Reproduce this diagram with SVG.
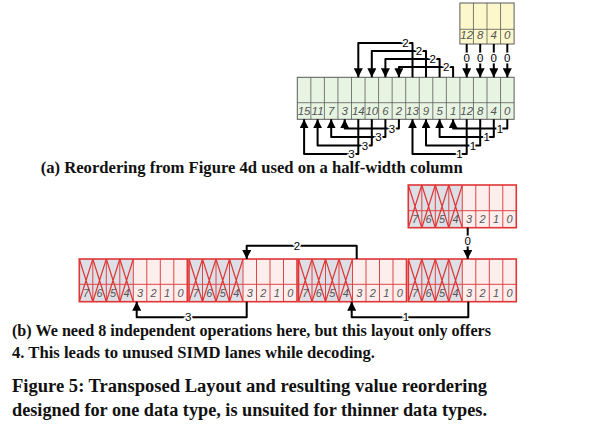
<svg xmlns="http://www.w3.org/2000/svg" width="614" height="445" viewBox="0 0 614 445">
<style>
.cellg{fill:#e7f4e2;stroke:#5a5a5a;stroke-width:1}
.celly{fill:#fcf8cc;stroke:#5a5a5a;stroke-width:1}
.grid{stroke:#5a5a5a;stroke-width:0.8;fill:none}
.num{font-family:"Liberation Sans",Arial,sans-serif;font-style:italic;font-size:11.5px;fill:#555;text-anchor:middle}
.rnum{font-family:"Liberation Sans",Arial,sans-serif;font-style:italic;font-size:11px;fill:#555;text-anchor:middle}
.conn{fill:none;stroke:#000;stroke-width:2;stroke-linejoin:round}
.lbl{font-family:"Liberation Sans",Arial,sans-serif;font-size:11.5px;fill:#000;text-anchor:middle;paint-order:stroke;stroke:#fff;stroke-width:3px}
.gray{fill:#dcdfe5}
.pink{fill:#fdeeee}
.rline{stroke:#e04545;stroke-width:1;fill:none}
.rx{stroke:#e03535;stroke-width:1.2;fill:none}
.rborder{stroke:#e03535;stroke-width:1.6;fill:none}
.cap{font-family:"Liberation Serif","Times New Roman",serif;font-weight:bold;fill:#111}
</style>
<defs>
<marker id="ah" markerUnits="userSpaceOnUse" markerWidth="9" markerHeight="9" viewBox="0 0 10 10" refX="10" refY="5" orient="auto">
<path d="M0,0 L10,5 L0,10 z" fill="#000"/>
</marker>
</defs>

<!-- (a) yellow source column -->
<g id="yellow">
<rect class="celly" x="459.9" y="3" width="54.2" height="41"/>
<path class="grid" d="M473.45,3V44M487,3V44M500.55,3V44M459.9,29.3H514.1"/>
<text class="num" x="466.7" y="39">12</text>
<text class="num" x="480.2" y="39">8</text>
<text class="num" x="493.8" y="39">4</text>
<text class="num" x="507.3" y="39">0</text>
</g>

<!-- (a) green target column -->
<g id="green">
<rect class="cellg" x="297.3" y="77.3" width="216.8" height="42"/>
<path class="grid" d="M310.85,77.3V119.3M324.4,77.3V119.3M337.95,77.3V119.3M351.5,77.3V119.3M365.05,77.3V119.3M378.6,77.3V119.3M392.15,77.3V119.3M405.7,77.3V119.3M419.25,77.3V119.3M432.8,77.3V119.3M446.35,77.3V119.3M459.9,77.3V119.3M473.45,77.3V119.3M487,77.3V119.3M500.55,77.3V119.3M297.3,102.7H514.1"/>
<text class="num" x="304.1" y="114.5">15</text>
<text class="num" x="317.6" y="114.5">11</text>
<text class="num" x="331.2" y="114.5">7</text>
<text class="num" x="344.7" y="114.5">3</text>
<text class="num" x="358.3" y="114.5">14</text>
<text class="num" x="371.8" y="114.5">10</text>
<text class="num" x="385.4" y="114.5">6</text>
<text class="num" x="398.9" y="114.5">2</text>
<text class="num" x="412.5" y="114.5">13</text>
<text class="num" x="426" y="114.5">9</text>
<text class="num" x="439.6" y="114.5">5</text>
<text class="num" x="453.1" y="114.5">1</text>
<text class="num" x="466.7" y="114.5">12</text>
<text class="num" x="480.2" y="114.5">8</text>
<text class="num" x="493.8" y="114.5">4</text>
<text class="num" x="507.3" y="114.5">0</text>
</g>

<!-- (b) top red box -->
<g id="src8" transform="translate(408.3,185)">
<rect class="gray" x="0" y="0" width="54" height="42.7"/>
<rect class="pink" x="54" y="0" width="54" height="42.7"/>
<path class="rline" d="M13.5,0V42.7M27,0V42.7M40.5,0V42.7M54,0V42.7M67.5,0V42.7M81,0V42.7M94.5,0V42.7M0,25.7H108"/>
<path class="rx" d="M0,0L13.5,42.7M13.5,0L0,42.7M13.5,0L27,42.7M27,0L13.5,42.7M27,0L40.5,42.7M40.5,0L27,42.7M40.5,0L54,42.7M54,0L40.5,42.7"/>
<rect class="rborder" x="0" y="0" width="108" height="42.7"/>
<text class="rnum" x="6.75" y="38">7</text><text class="rnum" x="20.25" y="38">6</text><text class="rnum" x="33.75" y="38">5</text><text class="rnum" x="47.25" y="38">4</text>
<text class="rnum" x="60.75" y="38">3</text><text class="rnum" x="74.25" y="38">2</text><text class="rnum" x="87.75" y="38">1</text><text class="rnum" x="101.25" y="38">0</text>
</g>

<!-- (b) lower boxes -->
<g id="box1" transform="translate(79.3,259)">
<rect class="gray" x="0" y="0" width="54" height="42.7"/>
<rect class="pink" x="54" y="0" width="54" height="42.7"/>
<path class="rline" d="M13.5,0V42.7M27,0V42.7M40.5,0V42.7M54,0V42.7M67.5,0V42.7M81,0V42.7M94.5,0V42.7M0,25.3H108"/>
<path class="rx" d="M0,0L13.5,42.7M13.5,0L0,42.7M13.5,0L27,42.7M27,0L13.5,42.7M27,0L40.5,42.7M40.5,0L27,42.7M40.5,0L54,42.7M54,0L40.5,42.7"/>
<rect class="rborder" x="0" y="0" width="108" height="42.7"/>
<text class="rnum" x="6.75" y="38">7</text><text class="rnum" x="20.25" y="38">6</text><text class="rnum" x="33.75" y="38">5</text><text class="rnum" x="47.25" y="38">4</text>
<text class="rnum" x="60.75" y="38">3</text><text class="rnum" x="74.25" y="38">2</text><text class="rnum" x="87.75" y="38">1</text><text class="rnum" x="101.25" y="38">0</text>
</g>
<g id="box2" transform="translate(189,259)">
<rect class="gray" x="0" y="0" width="54" height="42.7"/>
<rect class="pink" x="54" y="0" width="54" height="42.7"/>
<path class="rline" d="M13.5,0V42.7M27,0V42.7M40.5,0V42.7M54,0V42.7M67.5,0V42.7M81,0V42.7M94.5,0V42.7M0,25.3H108"/>
<path class="rx" d="M0,0L13.5,42.7M13.5,0L0,42.7M13.5,0L27,42.7M27,0L13.5,42.7M27,0L40.5,42.7M40.5,0L27,42.7M40.5,0L54,42.7M54,0L40.5,42.7"/>
<rect class="rborder" x="0" y="0" width="108" height="42.7"/>
<text class="rnum" x="6.75" y="38">7</text><text class="rnum" x="20.25" y="38">6</text><text class="rnum" x="33.75" y="38">5</text><text class="rnum" x="47.25" y="38">4</text>
<text class="rnum" x="60.75" y="38">3</text><text class="rnum" x="74.25" y="38">2</text><text class="rnum" x="87.75" y="38">1</text><text class="rnum" x="101.25" y="38">0</text>
</g>
<g id="box3" transform="translate(298.5,259)">
<rect class="gray" x="0" y="0" width="54" height="42.7"/>
<rect class="pink" x="54" y="0" width="54" height="42.7"/>
<path class="rline" d="M13.5,0V42.7M27,0V42.7M40.5,0V42.7M54,0V42.7M67.5,0V42.7M81,0V42.7M94.5,0V42.7M0,25.3H108"/>
<path class="rx" d="M0,0L13.5,42.7M13.5,0L0,42.7M13.5,0L27,42.7M27,0L13.5,42.7M27,0L40.5,42.7M40.5,0L27,42.7M40.5,0L54,42.7M54,0L40.5,42.7"/>
<rect class="rborder" x="0" y="0" width="108" height="42.7"/>
<text class="rnum" x="6.75" y="38">7</text><text class="rnum" x="20.25" y="38">6</text><text class="rnum" x="33.75" y="38">5</text><text class="rnum" x="47.25" y="38">4</text>
<text class="rnum" x="60.75" y="38">3</text><text class="rnum" x="74.25" y="38">2</text><text class="rnum" x="87.75" y="38">1</text><text class="rnum" x="101.25" y="38">0</text>
</g>
<g id="box4" transform="translate(408.3,259)">
<rect class="gray" x="0" y="0" width="54" height="42.7"/>
<rect class="pink" x="54" y="0" width="54" height="42.7"/>
<path class="rline" d="M13.5,0V42.7M27,0V42.7M40.5,0V42.7M54,0V42.7M67.5,0V42.7M81,0V42.7M94.5,0V42.7M0,25.3H108"/>
<path class="rx" d="M0,0L13.5,42.7M13.5,0L0,42.7M13.5,0L27,42.7M27,0L13.5,42.7M27,0L40.5,42.7M40.5,0L27,42.7M40.5,0L54,42.7M54,0L40.5,42.7"/>
<rect class="rborder" x="0" y="0" width="108" height="42.7"/>
<text class="rnum" x="6.75" y="38">7</text><text class="rnum" x="20.25" y="38">6</text><text class="rnum" x="33.75" y="38">5</text><text class="rnum" x="47.25" y="38">4</text>
<text class="rnum" x="60.75" y="38">3</text><text class="rnum" x="74.25" y="38">2</text><text class="rnum" x="87.75" y="38">1</text><text class="rnum" x="101.25" y="38">0</text>
</g>

<!-- connectors -->
<g id="connectors">
<!-- (a) step 0 -->
<path class="conn" marker-end="url(#ah)" d="M466.7,44V77.3"/>
<path class="conn" marker-end="url(#ah)" d="M480.2,44V77.3"/>
<path class="conn" marker-end="url(#ah)" d="M493.8,44V77.3"/>
<path class="conn" marker-end="url(#ah)" d="M507.3,44V77.3"/>
<text class="lbl" x="466.7" y="62">0</text>
<text class="lbl" x="480.2" y="62">0</text>
<text class="lbl" x="493.8" y="62">0</text>
<text class="lbl" x="507.3" y="62">0</text>
<!-- (a) step 2 -->
<path class="conn" marker-end="url(#ah)" d="M412.5,77.3V43H358.3V77.3"/>
<path class="conn" marker-end="url(#ah)" d="M426,77.3V51H371.8V77.3"/>
<path class="conn" marker-end="url(#ah)" d="M439.6,77.3V59H385.4V77.3"/>
<path class="conn" marker-end="url(#ah)" d="M453.1,77.3V67H398.9V77.3"/>
<text class="lbl" x="405.5" y="47">2</text>
<text class="lbl" x="419" y="55">2</text>
<text class="lbl" x="432.6" y="63">2</text>
<text class="lbl" x="446.1" y="71">2</text>
<!-- (a) step 3 -->
<path class="conn" marker-end="url(#ah)" d="M358.3,119.3V154H304.1V119.3"/>
<path class="conn" marker-end="url(#ah)" d="M371.8,119.3V145.5H317.6V119.3"/>
<path class="conn" marker-end="url(#ah)" d="M385.4,119.3V137H331.2V119.3"/>
<path class="conn" marker-end="url(#ah)" d="M398.9,119.3V128.5H344.7V119.3"/>
<text class="lbl" x="351.5" y="158">3</text>
<text class="lbl" x="365" y="149.5">3</text>
<text class="lbl" x="378.5" y="141">3</text>
<text class="lbl" x="392" y="132.5">3</text>
<!-- (a) step 1 -->
<path class="conn" marker-end="url(#ah)" d="M466.7,119.3V154H412.5V119.3"/>
<path class="conn" marker-end="url(#ah)" d="M480.2,119.3V145.5H426V119.3"/>
<path class="conn" marker-end="url(#ah)" d="M493.8,119.3V137H439.6V119.3"/>
<path class="conn" marker-end="url(#ah)" d="M507.3,119.3V128.5H453.1V119.3"/>
<text class="lbl" x="459.5" y="158">1</text>
<text class="lbl" x="473" y="149.5">1</text>
<text class="lbl" x="486.6" y="141">1</text>
<text class="lbl" x="500" y="132.5">1</text>
<!-- (b) -->
<path class="conn" marker-end="url(#ah)" d="M467.7,227.7V259"/>
<text class="lbl" x="467.7" y="245">0</text>
<path class="conn" marker-end="url(#ah)" d="M356.7,259V245.7H246.7V259"/>
<text class="lbl" x="297" y="249.5">2</text>
<path class="conn" marker-end="url(#ah)" d="M246.7,301.7V317.3H136.7V301.7"/>
<text class="lbl" x="188.3" y="321.3">3</text>
<path class="conn" marker-end="url(#ah)" d="M468.3,301.7V317.3H351.7V301.7"/>
<text class="lbl" x="406" y="321.3">1</text>
</g>

<!-- captions -->
<text class="cap" x="40.7" y="172.5" font-size="16" textLength="422" lengthAdjust="spacingAndGlyphs">(a) Reordering from Figure 4d used on a half-width column</text>
<text class="cap" x="12" y="336" font-size="16" textLength="479" lengthAdjust="spacingAndGlyphs">(b) We need 8 independent operations here, but this layout only offers</text>
<text class="cap" x="12" y="357.7" font-size="16" textLength="363" lengthAdjust="spacingAndGlyphs">4. This leads to unused SIMD lanes while decoding.</text>
<text class="cap" x="12" y="392" font-size="18.5" textLength="475" lengthAdjust="spacingAndGlyphs">Figure 5: Transposed Layout and resulting value reordering</text>
<text class="cap" x="12" y="416" font-size="18.5" textLength="475" lengthAdjust="spacingAndGlyphs">designed for one data type, is unsuited for thinner data types.</text>
</svg>
